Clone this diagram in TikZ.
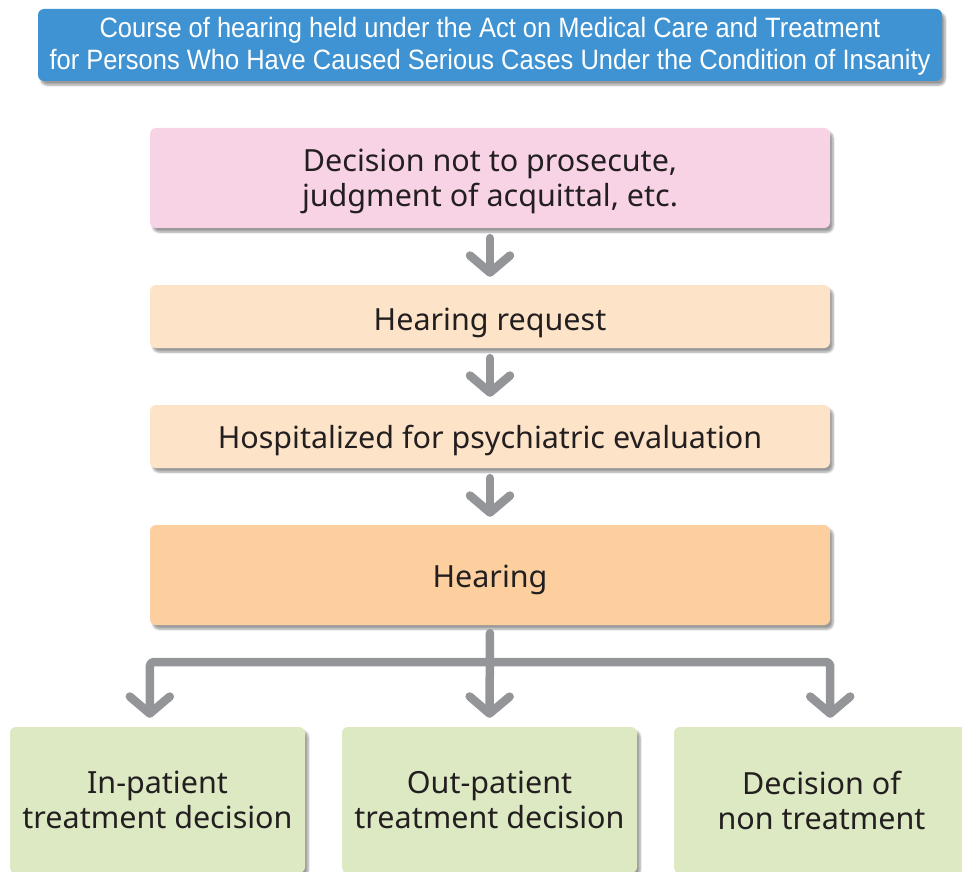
\documentclass[tikz,border=0pt]{standalone}
\usepackage{fontspec}
\setmainfont{Noto Sans}
\newfontfamily\condfont[FakeStretch=0.91]{Liberation Sans}
\usetikzlibrary{arrows.meta,shadows.blur}
\definecolor{titleblue}{HTML}{3F93D2}
\definecolor{pinkbox}{HTML}{F8D3E6}
\definecolor{peachbox}{HTML}{FDE3C8}
\definecolor{orangebox}{HTML}{FDCF9E}
\definecolor{greenbox}{HTML}{DCE9C3}
\definecolor{arrowgray}{HTML}{939598}
\definecolor{textdark}{HTML}{231F20}
\tikzset{
  box/.style={rounded corners=6pt, inner sep=0pt,
    blur shadow={shadow xshift=3pt, shadow yshift=-4pt, shadow blur steps=6, shadow opacity=40}},
  txt/.style={align=center, text=textdark, inner sep=0pt, font=\fontsize{30.5}{35}\selectfont},
  conn/.style={draw=arrowgray, line width=8.5pt, line cap=round, line join=round,
    -{Straight Barb[length=17pt, width=40pt, round]}},
}
\begin{document}
\begin{tikzpicture}[x=1pt,y=-1pt]
\useasboundingbox (0,0) rectangle (962,872);
\clip (0,0) rectangle (962,872);
\node[box, fill=titleblue, minimum width=904pt, minimum height=72pt,
  label={[txt, text=white, font=\condfont\fontsize{28}{32}\selectfont, yshift=-1pt]center:{Course of hearing held under the Act on Medical Care and Treatment\\
   for Persons Who Have Caused Serious Cases Under the Condition of Insanity}}] (title) at (490,45) {};
\node[box, fill=pinkbox, minimum width=680pt, minimum height=100pt,
  label={[txt, yshift=-3pt]center:{Decision not to prosecute,\\ judgment of acquittal, etc.}}] (dec) at (490,178) {};
\node[box, fill=peachbox, minimum width=680pt, minimum height=63pt,
  label={[txt, yshift=-6pt]center:Hearing request}] (req) at (490,316.5) {};
\node[box, fill=peachbox, minimum width=680pt, minimum height=63pt,
  label={[txt, yshift=-4pt]center:Hospitalized for psychiatric evaluation}] (hosp) at (490,436.5) {};
\node[box, fill=orangebox, minimum width=680pt, minimum height=100pt,
  label={[txt, yshift=-5pt]center:Hearing}] (hear) at (490,575) {};
\node[box, fill=greenbox, minimum width=295pt, minimum height=146pt,
  label={[txt]center:{In-patient\\ treatment decision}}] (inp) at (157.5,800) {};
\node[box, fill=greenbox, minimum width=295pt, minimum height=146pt,
  label={[txt]center:{Out-patient\\ treatment decision}}] (outp) at (489.5,800) {};
\node[box, fill=greenbox, minimum width=295pt, minimum height=146pt,
  label={[txt]center:{Decision of\\ non treatment}}] (non) at (821.5,800) {};
\coordinate (branch) at (490,662);
\draw[conn, shorten <=10pt, shorten >=8pt] (dec.south) -- (req.north);
\draw[conn, shorten <=10pt, shorten >=8pt] (req.south) -- (hosp.north);
\draw[conn, shorten <=10pt, shorten >=8pt] (hosp.south) -- (hear.north);
\draw[conn, shorten <=8pt, shorten >=9pt] (hear.south) -- (outp.north);
\draw[conn, shorten >=9pt, rounded corners=4pt] (branch) -| (inp.north -| hear.west);
\draw[conn, shorten >=9pt, rounded corners=4pt] (branch) -| (non.north -| hear.east);
\end{tikzpicture}
\end{document}
